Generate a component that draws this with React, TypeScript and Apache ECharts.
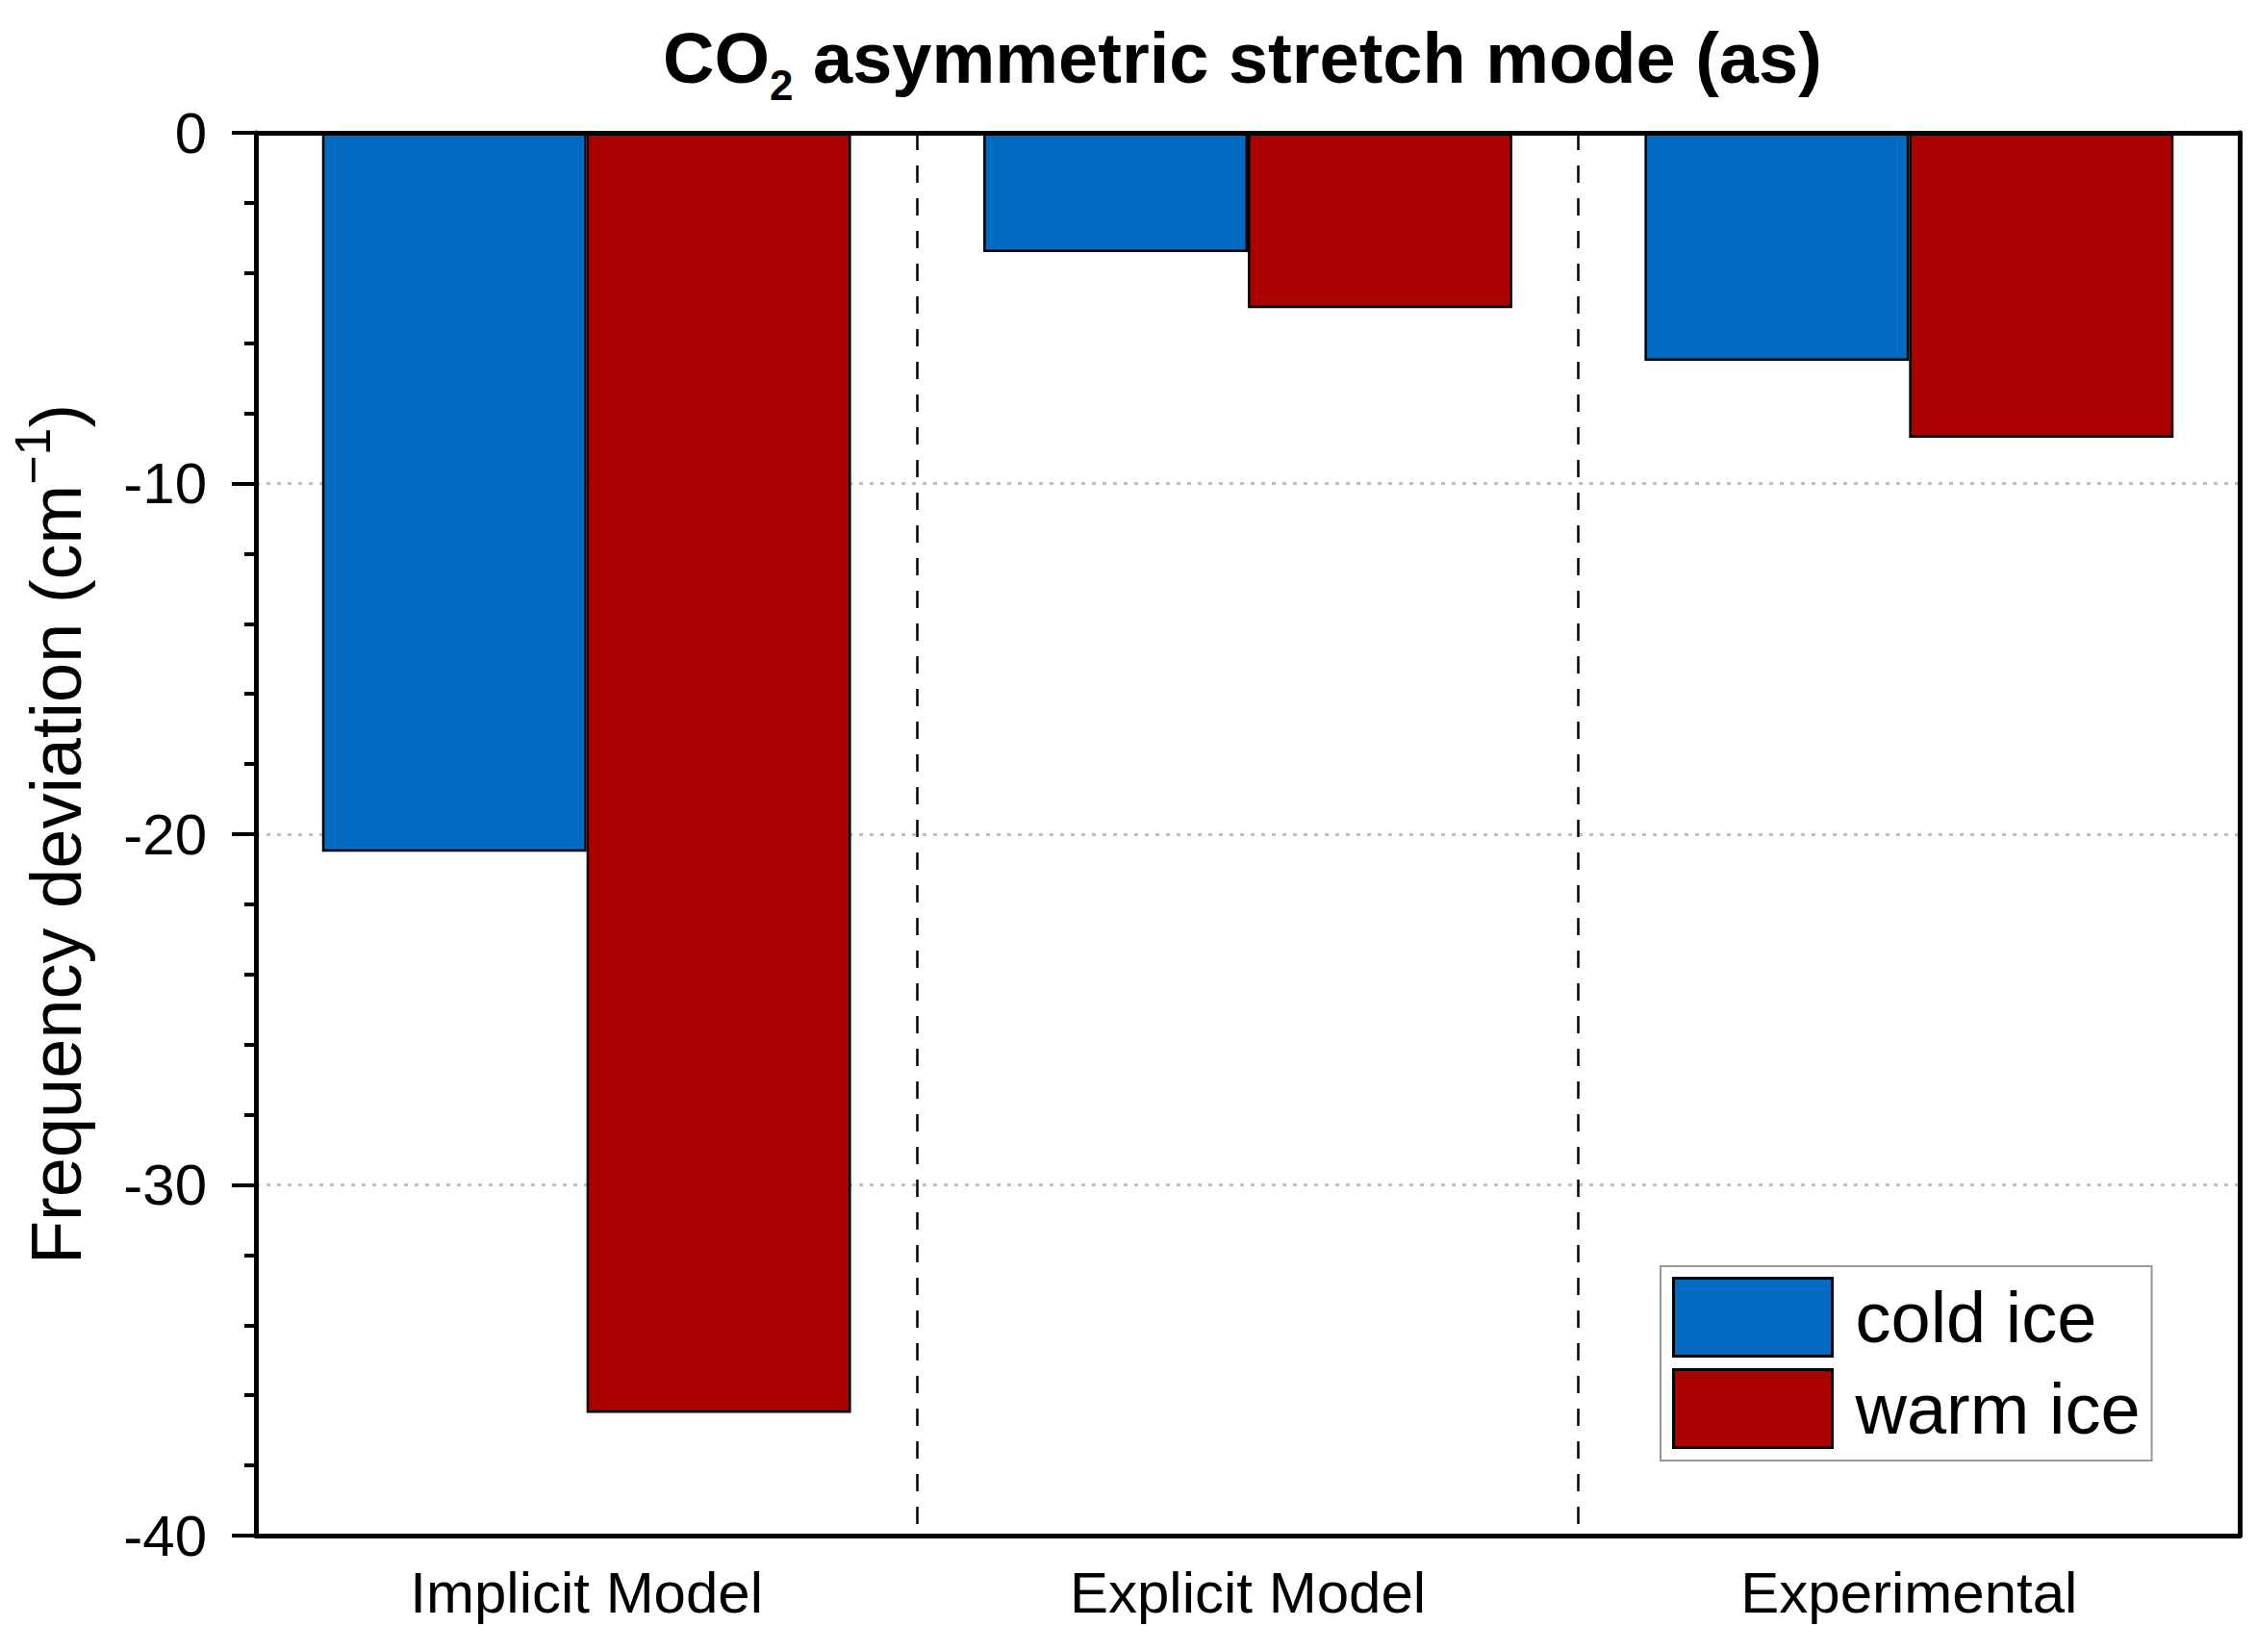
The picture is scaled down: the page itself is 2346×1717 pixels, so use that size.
import React, { useEffect, useRef } from "react";
import * as echarts from "echarts";

const categories = ["Implicit Model", "Explicit Model", "Experimental"];
const seriesNames = ["cold ice", "warm ice"];
const coldIce = [-20.5, -3.4, -6.5];
const warmIce = [-36.5, -5.0, -8.7];
const yMin = -40;
const yMax = 0;
const yInterval = 10;

const FONT = "Liberation Sans, Arial, Helvetica, sans-serif";

export default function App() {
  const ref = useRef<HTMLDivElement>(null);

  useEffect(() => {
    if (!ref.current) return;
    document.body.style.margin = "0";
    const chart = echarts.init(ref.current, undefined, { renderer: "svg" });
    const option: any = {
      animation: false,
      backgroundColor: "#ffffff",
      title: {
        text: "{a|CO}{sub|2}{a| asymmetric stretch mode (as)}",
        left: 684,
        top: 5,
        textStyle: {
          rich: {
            a: { fontSize: 74, fontWeight: "bold", lineHeight: 100, fontFamily: FONT, color: "#000" },
            sub: { fontSize: 44, fontWeight: "bold", lineHeight: 46, verticalAlign: "bottom", fontFamily: FONT, color: "#000" },
          },
        },
      },
      legend: {
        orient: "vertical",
        left: 1726,
        top: 1316,
        icon: "rect",
        itemWidth: 165,
        itemHeight: 81,
        itemGap: 11,
        padding: [11, 12, 12, 12],
        borderColor: "#999",
        borderWidth: 2,
        backgroundColor: "#fff",
        data: seriesNames,
        itemStyle: { borderWidth: 3 },
        textStyle: { fontSize: 74, color: "#000", fontFamily: FONT, padding: [0, 0, 0, 19] },
      },
      grid: { left: 263, right: 18, top: 138, bottom: 121, containLabel: false },
      xAxis: [
        {
          type: "category",
          data: categories,
          position: "bottom",
          boundaryGap: true,
          axisLine: { show: true, onZero: false, lineStyle: { color: "#000", width: 5 } },
          axisTick: { show: false },
          axisLabel: { fontSize: 60, lineHeight: 60, margin: 29, color: "#000", fontFamily: FONT },
          splitLine: { show: true, lineStyle: { type: [18, 16], color: "#000", width: 2.5 } },
        },
        {
          type: "category",
          data: categories,
          position: "top",
          z: 10,
          axisLine: { show: true, onZero: false, lineStyle: { color: "#000", width: 5 } },
          axisTick: { show: false },
          axisLabel: { show: false },
          splitLine: { show: false },
        },
      ],
      yAxis: [
        {
          type: "value",
          min: yMin,
          max: yMax,
          interval: yInterval,
          position: "left",
          name: "{a|Frequency deviation (cm}{sup|−1}{a|)}",
          nameLocation: "middle",
          nameRotate: 90,
          nameGap: 158,
          nameTextStyle: {
            rich: {
              a: { fontSize: 74, lineHeight: 100, fontFamily: FONT, color: "#000" },
              sup: { fontSize: 52, lineHeight: 52, verticalAlign: "top", fontFamily: FONT, color: "#000" },
            },
          },
          axisLine: { show: true, onZero: false, lineStyle: { color: "#000", width: 5 } },
          axisTick: { show: true, inside: false, length: 25, lineStyle: { color: "#000", width: 4 } },
          minorTick: { show: true, splitNumber: 5, length: 12, lineStyle: { color: "#000", width: 4 } },
          axisLabel: { fontSize: 60, margin: 51, color: "#000", fontFamily: FONT },
          splitLine: { show: true, lineStyle: { type: [4, 7], color: "#c0c0c0", width: 3 } },
        },
        {
          type: "value",
          min: yMin,
          max: yMax,
          interval: yInterval,
          position: "right",
          z: 10,
          axisLine: { show: true, onZero: false, lineStyle: { color: "#000", width: 5 } },
          axisTick: { show: false },
          axisLabel: { show: false },
          splitLine: { show: false },
        },
      ],
      series: [
        {
          name: seriesNames[0],
          type: "bar",
          xAxisIndex: 0,
          yAxisIndex: 0,
          data: coldIce,
          barGap: "0%",
          barCategoryGap: "20%",
          itemStyle: { color: "#006BC1", borderColor: "#000", borderWidth: 2.5 },
        },
        {
          name: seriesNames[1],
          type: "bar",
          xAxisIndex: 0,
          yAxisIndex: 0,
          data: warmIce,
          barGap: "0%",
          barCategoryGap: "20%",
          itemStyle: { color: "#AA0000", borderColor: "#000", borderWidth: 2.5 },
        },
      ],
    };
    chart.setOption(option);
    return () => chart.dispose();
  }, []);

  return (
    <div
      ref={ref}
      style={{ position: "absolute", left: 0, top: 0, width: 2346, height: 1717, background: "#fff" }}
    />
  );
}
